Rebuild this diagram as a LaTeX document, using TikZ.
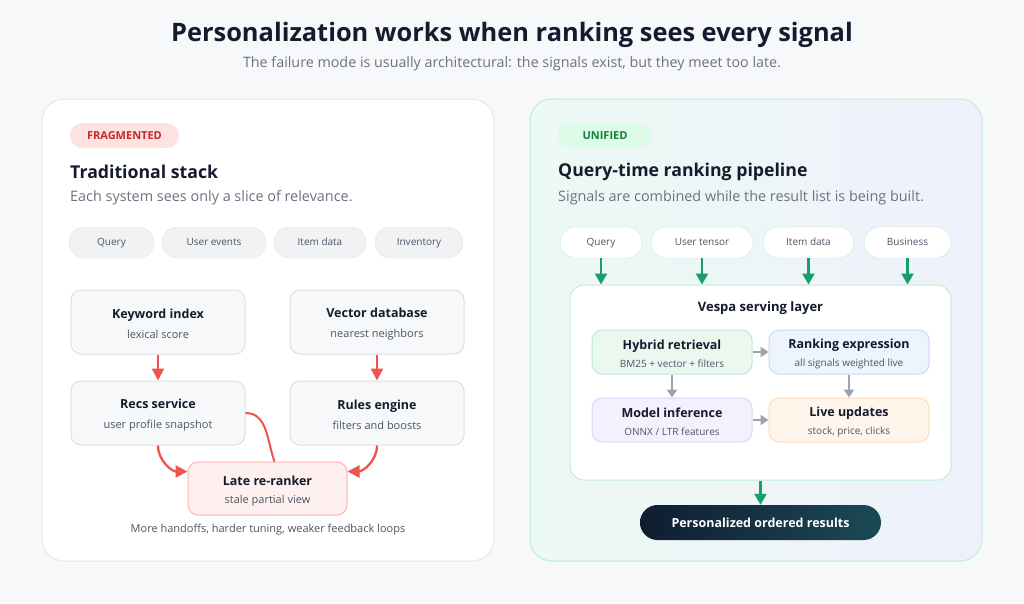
\documentclass[tikz,border=0pt]{standalone}
\usepackage{fontspec}
\setmainfont{Open Sans}
\usetikzlibrary{arrows.meta,positioning}

\definecolor{canvas}{HTML}{F7F8FA}
\definecolor{ink}{HTML}{141B2D}
\definecolor{subink}{HTML}{6B7280}
\definecolor{softink}{HTML}{4B5563}
\definecolor{panelline}{HTML}{E5E7EB}
\definecolor{greenline}{HTML}{BDEFD0}
\definecolor{greenA}{HTML}{EDF9F4}
\definecolor{greenB}{HTML}{EEF1FB}
\definecolor{fragfill}{HTML}{FDE2E2}
\definecolor{fragtext}{HTML}{C62828}
\definecolor{unifill}{HTML}{DCFCE7}
\definecolor{unitext}{HTML}{15803D}
\definecolor{chipfill}{HTML}{F1F2F4}
\definecolor{chipline}{HTML}{E3E5E8}
\definecolor{boxfill}{HTML}{F7F8FA}
\definecolor{boxline}{HTML}{DCDFE3}
\definecolor{latefill}{HTML}{FFF0F0}
\definecolor{lateline}{HTML}{F8B4B4}
\definecolor{redarrow}{HTML}{EF5350}
\definecolor{greenarrow}{HTML}{179E6B}
\definecolor{grayarrow}{HTML}{9CA3AF}
\definecolor{hybfill}{HTML}{EAF8F0}
\definecolor{hybline}{HTML}{BDEBD0}
\definecolor{rankfill}{HTML}{EEF4FE}
\definecolor{rankline}{HTML}{C8DAF8}
\definecolor{modfill}{HTML}{F3F1FD}
\definecolor{modline}{HTML}{DCD6F8}
\definecolor{livefill}{HTML}{FFF5EA}
\definecolor{liveline}{HTML}{FCDDB8}
\definecolor{resA}{HTML}{0F1D30}
\definecolor{resB}{HTML}{1C4957}

% two lines in a box: bold title, grey line below
\newcommand{\twoline}[3]{{\bfseries\fontsize{12.5}{#3}\selectfont\color{ink}\rule{0pt}{14pt}#1}\\{\color{softink}#2}}

\begin{document}
\begin{tikzpicture}[x=1pt, y=-1pt,
    panel/.style={rounded corners=22pt, line width=1pt, minimum width=452pt, minimum height=462pt},
    tag/.style={rounded corners=12.5pt, minimum height=25pt, inner sep=0pt, text height=8pt, text depth=0pt, font=\bfseries\fontsize{11}{13}\selectfont},
    chip/.style={draw=chipline, fill=chipfill, rounded corners=15.5pt, minimum height=31pt, inner sep=0pt, text height=7.5pt, text depth=2.2pt, font=\fontsize{10}{12}\selectfont, text=softink},
    gchip/.style={chip, draw=greenline, fill=white},
    sbox/.style={draw=boxline, fill=boxfill, line width=1pt, rounded corners=10pt, minimum width=174pt, minimum height=64pt, align=center, inner sep=0pt, font=\fontsize{11}{20}\selectfont},
    vbox/.style={line width=1pt, rounded corners=10pt, minimum width=160pt, minimum height=44pt, align=center, inner sep=0pt, font=\fontsize{10}{18}\selectfont},
    head/.style={anchor=west, inner sep=0pt, font=\bfseries\fontsize{17.7}{21}\selectfont, text=ink},
    lead/.style={anchor=west, inner sep=0pt, font=\fontsize{14.4}{16}\selectfont, text=subink},
    redarr/.style={-{Triangle[length=12pt,width=12pt]}, draw=redarrow, line width=2.3pt},
    grnarr/.style={-{Triangle[length=11pt,width=12pt]}, draw=greenarrow, line width=2.2pt},
    gryarr/.style={-{Triangle[length=8pt,width=10pt]}, draw=grayarrow, line width=2pt}]
    % Hintergrund
    \fill[canvas] (0,0) rectangle (1024,603);
    \useasboundingbox (0,0) rectangle (1024,603);
    % Titel
    \node[font=\bfseries\fontsize{25.4}{30}\selectfont, text=ink] (title) at (512,35) {Personalization works when ranking sees every signal};
    \node[font=\fontsize{14.3}{16}\selectfont, text=subink] (subtitle) at (512,64) {The failure mode is usually architectural: the signals exist, but they meet too late.};

    % linke Seite
    \node[panel, draw=panelline, fill=white] (left) at (268,330) {};
    \node[tag, fill=fragfill, text=fragtext, minimum width=109pt] (frag) at (124.5,135.5) {FRAGMENTED};
    \node[head] (lhead) at (70,172) {Traditional stack};
    \node[lead] (llead) at (70,197.5) {Each system sees only a slice of relevance.};
    \node[chip, minimum width=85pt] (c1) at (111.5,242.5) {Query};
    \node[chip, minimum width=104pt] (c2) at (214,242.5) {User events};
    \node[chip, minimum width=92pt] (c3) at (320,242.5) {Item data};
    \node[chip, minimum width=88pt] (c4) at (419,242.5) {Inventory};
    \node[sbox] (kw) at (158,322) {\twoline{Keyword index}{lexical score}{20}};
    \node[sbox] (vec) at (377,322) {\twoline{Vector database}{nearest neighbors}{20}};
    \node[sbox] (recs) at (158,413) {\twoline{Recs service}{user profile snapshot}{20}};
    \node[sbox] (rules) at (377,413) {\twoline{Rules engine}{filters and boosts}{20}};
    \node[sbox, draw=lateline, fill=latefill, minimum width=159pt, minimum height=53pt, font=\fontsize{11}{18}\selectfont] (late) at (267.5,488.5) {\twoline{Late re-ranker}{stale partial view}{18}};
    \draw[redarr] (kw) -- (recs);
    \draw[redarr] (vec) -- (rules);
    \draw[redarr] (recs.south) to[out=-90, in=180] (late.168);
    \draw[redarr] (rules.south) to[out=-90, in=0] (late.12);
    \draw[draw=redarrow, line width=2pt] (recs.east) to[out=0, in=110] ([xshift=7pt]late.north);
    \node[font=\fontsize{11}{13}\selectfont, text=softink] (lnote) at (268,530) {More handoffs, harder tuning, weaker feedback loops};

    % rechte Seite
    \node[panel, draw=greenline, left color=greenA, right color=greenB] (right) at (756,330) {};
    \node[tag, fill=unifill, text=unitext, minimum width=94pt] (uni) at (605,135.5) {UNIFIED};
    \node[head] (rhead) at (558,172) {Query-time ranking pipeline};
    \node[lead] (rlead) at (558,197.5) {Signals are combined while the result list is being built.};
    \node[gchip, minimum width=82pt] (g1) at (601,242.5) {Query};
    \node[gchip, minimum width=102pt] (g2) at (702,242.5) {User tensor};
    \node[gchip, minimum width=91pt] (g3) at (808.5,242.5) {Item data};
    \node[gchip, minimum width=87pt] (g4) at (907.5,242.5) {Business};
    \node[draw=greenline, fill=white, line width=1pt, rounded corners=14pt, minimum width=381pt, minimum height=195pt] (serve) at (760.5,382.5) {};
    \node[font=\bfseries\fontsize{13}{15}\selectfont, text=ink] (servelabel) at (760.5,308) {Vespa serving layer};
    \foreach \g in {g1,g2,g3,g4}
      \draw[grnarr] (\g.south) -- (\g.south |- serve.north);
    \node[vbox, draw=hybline, fill=hybfill] (hyb) at (672,352) {\twoline{Hybrid retrieval}{BM25 + vector + filters}{18}};
    \node[vbox, draw=rankline, fill=rankfill] (rank) at (849,352) {\twoline{Ranking expression}{all signals weighted live}{18}};
    \node[vbox, draw=modline, fill=modfill] (model) at (672,420) {\twoline{Model inference}{ONNX / LTR features}{18}};
    \node[vbox, draw=liveline, fill=livefill] (live) at (849,420) {\twoline{Live updates}{stock, price, clicks}{18}};
    \draw[gryarr] (hyb) -- (rank);
    \draw[gryarr] (hyb) -- (model);
    \draw[gryarr] (rank) -- (live);
    \draw[gryarr] (model) -- (live);
    \node[rounded corners=17.5pt, left color=resA, right color=resB, minimum width=241pt, minimum height=35pt, text=white, font=\bfseries\fontsize{12.5}{15}\selectfont] (res) at (760.5,522.5) {Personalized ordered results};
    \draw[grnarr] (serve.south) -- (res.north);
\end{tikzpicture}
\end{document}
